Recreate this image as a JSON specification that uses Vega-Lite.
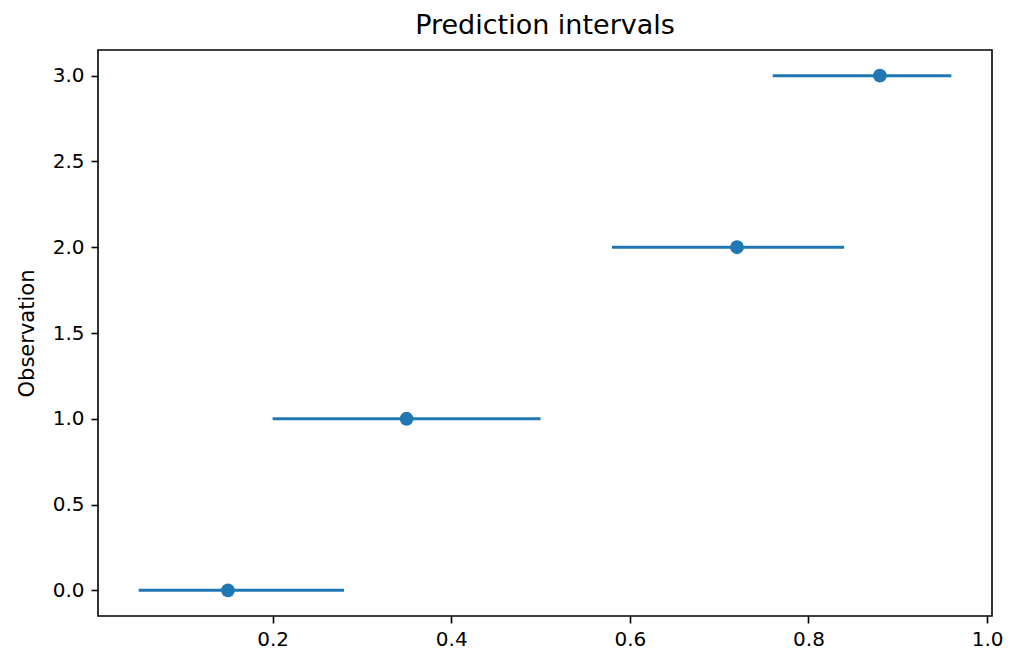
{
  "$schema": "https://vega.github.io/schema/vega-lite/v6.json",
  "autosize": "none",
  "width": 894,
  "height": 566,
  "padding": {"left": 98, "top": 50, "right": 27, "bottom": 54},
  "background": "white",
  "title": {"text": "Prediction intervals", "font": "DejaVu Sans", "fontSize": 27, "fontWeight": "normal", "color": "black", "offset": 10},
  "config": {
    "view": {"stroke": "black", "strokeWidth": 1.6},
    "axis": {
      "domain": false, "grid": false,
      "labelFont": "DejaVu Sans", "labelFontSize": 20, "labelColor": "black",
      "tickColor": "black", "tickSize": 7, "tickWidth": 1.6,
      "titleFont": "DejaVu Sans", "titleFontSize": 21, "titleFontWeight": "normal", "titleColor": "black"
    }
  },
  "data": {"values": [
    {"obs": 0, "low": 0.05, "high": 0.28, "est": 0.15},
    {"obs": 1, "low": 0.20, "high": 0.50, "est": 0.35},
    {"obs": 2, "low": 0.58, "high": 0.84, "est": 0.72},
    {"obs": 3, "low": 0.76, "high": 0.96, "est": 0.88}
  ]},
  "layer": [
    {
      "mark": {"type": "rule", "color": "#1f77b4", "strokeWidth": 3},
      "encoding": {
        "x": {"field": "low", "type": "quantitative", "scale": {"domain": [0.0045, 1.0055], "nice": false, "zero": false},
              "axis": {"values": [0.2, 0.4, 0.6, 0.8, 1.0], "format": ".1f", "title": null, "labelPadding": 6}},
        "x2": {"field": "high"},
        "y": {"field": "obs", "type": "quantitative", "scale": {"domain": [-0.15, 3.15], "nice": false, "zero": false},
              "axis": {"values": [0, 0.5, 1, 1.5, 2, 2.5, 3], "format": ".1f", "title": "Observation", "labelPadding": 7, "titlePadding": 15}}
      }
    },
    {
      "mark": {"type": "circle", "color": "#1f77b4", "opacity": 1, "size": 190},
      "encoding": {
        "x": {"field": "est", "type": "quantitative"},
        "y": {"field": "obs", "type": "quantitative"}
      }
    }
  ]
}
